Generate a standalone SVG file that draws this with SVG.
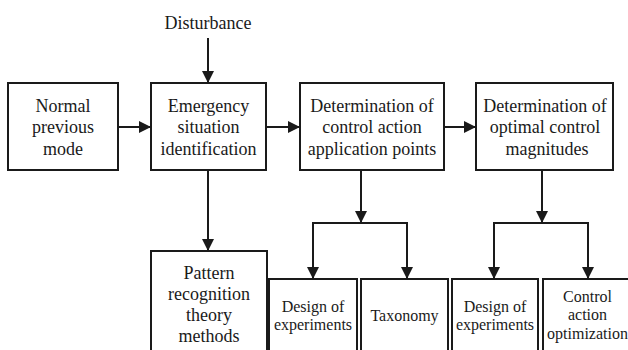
<svg xmlns="http://www.w3.org/2000/svg" width="628" height="350" viewBox="0 0 628 350">
<style>
.box{fill:#fff;stroke:#1a1a1a;stroke-width:2}
.t{font-family:"Liberation Serif","Times New Roman",serif;font-size:18px;fill:#1a1a1a;text-anchor:middle}
.s{font-size:16px}
.c{fill:none;stroke:#1a1a1a;stroke-width:2}
</style>
<defs>
<marker id="ah" markerUnits="userSpaceOnUse" markerWidth="12" markerHeight="12" viewBox="0 0 12 12" refX="12" refY="6" orient="auto">
<path d="M0,0 L12,6 L0,12 Z" fill="#1a1a1a"/>
</marker>
</defs>
<rect width="628" height="350" fill="#fff"/>
<text class="t" x="208" y="29">Disturbance</text>
<g id="n1"><rect class="box" x="8" y="83" width="110" height="87"/>
<text class="t" x="63" y="111.5">Normal</text><text class="t" x="63" y="133">previous</text><text class="t" x="63" y="155">mode</text></g>
<g id="n2"><rect class="box" x="151" y="83" width="115" height="87"/>
<text class="t" x="208.5" y="111.5">Emergency</text><text class="t" x="208.5" y="133">situation</text><text class="t" x="208.5" y="155">identification</text></g>
<g id="n3"><rect class="box" x="300" y="83" width="144" height="87"/>
<text class="t" x="372" y="111.5">Determination of</text><text class="t" x="372" y="133">control action</text><text class="t" x="372" y="155">application points</text></g>
<g id="n4"><rect class="box" x="476" y="83" width="137" height="87"/>
<text class="t" x="545" y="111.5">Determination of</text><text class="t" x="545" y="133">optimal control</text><text class="t" x="547" y="155">magnitudes</text></g>
<g id="n5"><rect class="box" x="151" y="251" width="116" height="110"/>
<text class="t" x="209" y="279">Pattern</text><text class="t" x="209" y="300">recognition</text><text class="t" x="209" y="320.5">theory</text><text class="t" x="209" y="341.5">methods</text></g>
<g id="n6"><rect class="box" x="269" y="279" width="88" height="82"/>
<text class="t s" x="313" y="311.5">Design of</text><text class="t s" x="313" y="329.5">experiments</text></g>
<g id="n7"><rect class="box" x="361" y="279" width="87" height="82"/>
<text class="t s" x="404.5" y="320.5">Taxonomy</text></g>
<g id="n8"><rect class="box" x="452" y="279" width="86" height="82"/>
<text class="t s" x="495" y="311.5">Design of</text><text class="t s" x="495" y="329.5">experiments</text></g>
<g id="n9"><rect class="box" x="543" y="279" width="88" height="82"/>
<text class="t s" x="587.5" y="301.5">Control</text><text class="t s" x="587.5" y="320">action</text><text class="t s" x="587.5" y="339">optimization</text></g>
<g id="connectors">
<path class="c" d="M208,38 V83" marker-end="url(#ah)"/>
<path class="c" d="M118,127 H151" marker-end="url(#ah)"/>
<path class="c" d="M266,127 H300" marker-end="url(#ah)"/>
<path class="c" d="M444,127 H476" marker-end="url(#ah)"/>
<path class="c" d="M208,170 V251" marker-end="url(#ah)"/>
<path class="c" d="M361,170 V223" marker-end="url(#ah)"/>
<path class="c" d="M361,223 H313 V279" marker-end="url(#ah)"/>
<path class="c" d="M361,223 H407 V279" marker-end="url(#ah)"/>
<path class="c" d="M542,170 V223" marker-end="url(#ah)"/>
<path class="c" d="M542,223 H494 V279" marker-end="url(#ah)"/>
<path class="c" d="M542,223 H588 V279" marker-end="url(#ah)"/>
</g>
</svg>
